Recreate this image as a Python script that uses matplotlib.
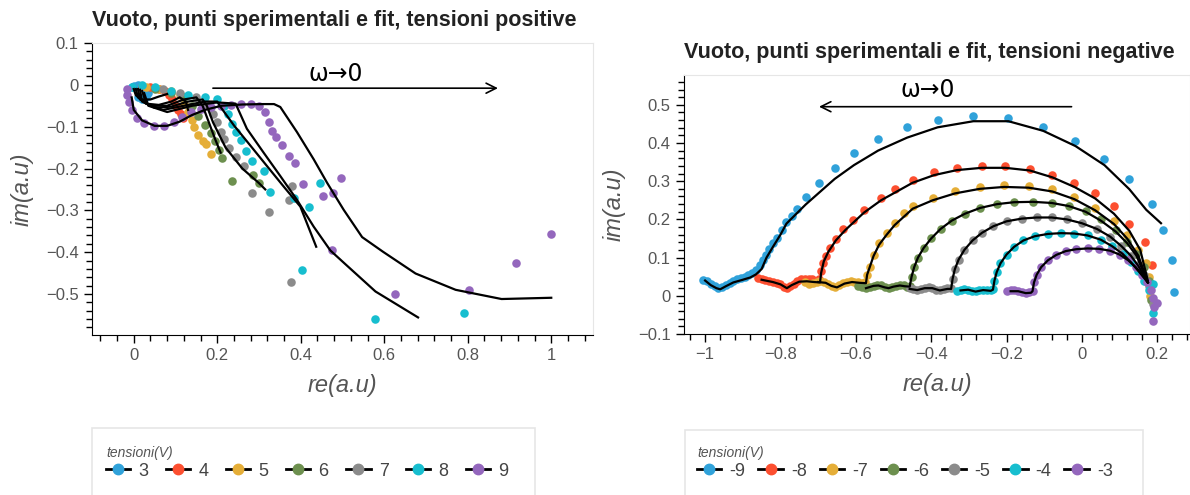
import matplotlib
matplotlib.use('Agg')
import matplotlib.pyplot as plt
from matplotlib.lines import Line2D
from matplotlib.patches import Rectangle
from matplotlib.ticker import MultipleLocator

plt.rcParams['font.family'] = ['Liberation Sans', 'DejaVu Sans']

# palette (holoviews default cycle)
colors = ['#30a2da', '#fc4f30', '#e5ae38', '#6d904f', '#8b8b8b', '#17becf', '#9467bd']

# ---------------- positive voltages (left) ----------------
pos_labels = ['3', '4', '5', '6', '7', '8', '9']

pos_x = [
    [-0.005, 0.0, 0.01, 0.02, 0.03, 0.035, 0.03, 0.02, 0.01],
    [0.02, 0.04, 0.06, 0.075, 0.085, 0.092, 0.1, 0.106, 0.112, 0.117],
    [0.03, 0.06, 0.09, 0.11, 0.12, 0.13, 0.14, 0.145, 0.155, 0.165, 0.172, 0.184],
    [0.05, 0.09, 0.12, 0.14, 0.155, 0.17, 0.185, 0.195, 0.205, 0.212, 0.236, 0.285, 0.30],
    [0.07, 0.11, 0.15, 0.175, 0.19, 0.2, 0.208, 0.216, 0.228, 0.245, 0.264, 0.283, 0.323, 0.371, 0.379, 0.377],
    [-0.005, 0.02, 0.05, 0.09, 0.13, 0.17, 0.2, 0.215, 0.225, 0.235, 0.245, 0.256, 0.268, 0.283, 0.311,
     0.327, 0.383, 0.419, 0.447, 0.403, 0.578, 0.791],
    [-0.015, -0.015, -0.012, -0.005, 0.008, 0.025, 0.048, 0.072, 0.096, 0.115, 0.136, 0.16, 0.184, 0.208,
     0.232, 0.256, 0.28, 0.3, 0.315, 0.323, 0.33, 0.341, 0.355, 0.373, 0.386, 0.405, 0.453, 0.478, 0.496,
     0.476, 0.626, 0.803, 0.915, 1.0],
]
pos_y = [
    [-0.005, -0.002, 0.0, -0.003, -0.01, -0.02, -0.03, -0.035, -0.03],
    [-0.002, -0.005, -0.01, -0.015, -0.025, -0.035, -0.05, -0.06, -0.07, -0.08],
    [-0.005, -0.01, -0.015, -0.025, -0.045, -0.065, -0.085, -0.1, -0.12, -0.135, -0.142, -0.166],
    [-0.01, -0.02, -0.03, -0.05, -0.075, -0.095, -0.115, -0.135, -0.155, -0.174, -0.23, -0.215, -0.235],
    [-0.01, -0.02, -0.03, -0.045, -0.07, -0.09, -0.113, -0.129, -0.15, -0.172, -0.194, -0.259, -0.303,
     -0.275, -0.242, -0.471],
    [-0.005, 0.0, -0.005, -0.015, -0.025, -0.03, -0.035, -0.05, -0.07, -0.093, -0.113, -0.133, -0.158,
     -0.182, -0.206, -0.255, -0.271, -0.291, -0.234, -0.443, -0.56, -0.546],
    [-0.01, -0.025, -0.04, -0.06, -0.08, -0.092, -0.098, -0.098, -0.09, -0.078, -0.066, -0.058, -0.053,
     -0.05, -0.048, -0.047, -0.047, -0.05, -0.065, -0.09, -0.11, -0.125, -0.145, -0.17, -0.188, -0.238,
     -0.265, -0.259, -0.222, -0.395, -0.50, -0.49, -0.427, -0.356],
]

pos_fit_x = [
    [0.0, 0.005, 0.02, 0.04, 0.06, 0.08],
    [0.005, 0.01, 0.03, 0.06, 0.09, 0.11, 0.125, 0.13],
    [0.01, 0.015, 0.04, 0.08, 0.12, 0.15, 0.165, 0.18, 0.195, 0.208],
    [0.015, 0.02, 0.05, 0.09, 0.13, 0.165, 0.175, 0.19, 0.22, 0.26, 0.30, 0.315],
    [0.02, 0.03, 0.07, 0.12, 0.17, 0.2, 0.208, 0.24, 0.28, 0.319, 0.359, 0.399, 0.437],
    [0.025, 0.035, 0.08, 0.14, 0.2, 0.244, 0.271, 0.311, 0.351, 0.391, 0.431, 0.471, 0.505, 0.579, 0.681],
    [-0.005, 0.0, 0.02, 0.05, 0.08, 0.11, 0.14, 0.17, 0.21, 0.26, 0.31, 0.336, 0.351, 0.391, 0.431,
     0.463, 0.503, 0.547, 0.597, 0.675, 0.771, 0.881, 1.0],
]
pos_fit_y = [
    [-0.01, -0.025, -0.035, -0.035, -0.028, -0.022],
    [-0.01, -0.03, -0.045, -0.048, -0.04, -0.03, -0.04, -0.06],
    [-0.01, -0.035, -0.05, -0.05, -0.035, -0.03, -0.05, -0.09, -0.13, -0.162],
    [-0.012, -0.04, -0.055, -0.052, -0.04, -0.035, -0.05, -0.09, -0.15, -0.2, -0.235, -0.25],
    [-0.015, -0.045, -0.06, -0.05, -0.04, -0.04, -0.053, -0.097, -0.146, -0.194, -0.243, -0.291, -0.387],
    [-0.02, -0.05, -0.065, -0.05, -0.042, -0.045, -0.105, -0.162, -0.218, -0.275, -0.339, -0.396, -0.427,
     -0.494, -0.556],
    [-0.03, -0.06, -0.085, -0.098, -0.098, -0.088, -0.072, -0.06, -0.05, -0.047, -0.046, -0.046, -0.053,
     -0.113, -0.178, -0.234, -0.299, -0.364, -0.399, -0.451, -0.49, -0.512, -0.509],
]

# ---------------- negative voltages (right) ----------------
neg_labels = ['-9', '-8', '-7', '-6', '-5', '-4', '-3']

neg_x = [
    [-1.005, -0.995, -0.985, -0.975, -0.965, -0.955, -0.945, -0.935, -0.925, -0.915, -0.905, -0.895, -0.885,
     -0.875, -0.865, -0.855, -0.847, -0.839, -0.83, -0.82, -0.81, -0.797, -0.784, -0.77, -0.756, -0.733,
     -0.698, -0.656, -0.605, -0.541, -0.464, -0.383, -0.288, -0.195, -0.103, -0.017, 0.06, 0.126, 0.186,
     0.215, 0.24, 0.245],
    [-0.859, -0.85, -0.84, -0.83, -0.82, -0.81, -0.8, -0.79, -0.782, -0.774, -0.765, -0.755, -0.745, -0.735,
     -0.725, -0.715, -0.705, -0.697, -0.692, -0.686, -0.678, -0.668, -0.653, -0.633, -0.608, -0.578, -0.533,
     -0.497, -0.449, -0.392, -0.332, -0.266, -0.203, -0.138, -0.078, -0.02, 0.035, 0.085, 0.126, 0.168,
     0.185],
    [-0.734, -0.724, -0.714, -0.704, -0.694, -0.684, -0.674, -0.664, -0.654, -0.644, -0.634, -0.624, -0.614,
     -0.604, -0.594, -0.584, -0.575, -0.57, -0.563, -0.553, -0.538, -0.518, -0.497, -0.472, -0.449, -0.396,
     -0.337, -0.271, -0.206, -0.141, -0.078, -0.02, 0.035, 0.085, 0.12, 0.15, 0.17, 0.178, 0.18],
    [-0.593, -0.583, -0.573, -0.563, -0.553, -0.543, -0.533, -0.523, -0.513, -0.503, -0.493, -0.483, -0.473,
     -0.463, -0.457, -0.452, -0.445, -0.435, -0.42, -0.4, -0.375, -0.345, -0.31, -0.27, -0.225, -0.18, -0.13,
     -0.08, -0.035, 0.01, 0.05, 0.09, 0.12, 0.145, 0.165, 0.178, 0.183],
    [-0.457, -0.447, -0.437, -0.427, -0.417, -0.407, -0.397, -0.387, -0.377, -0.367, -0.357, -0.347, -0.343,
     -0.337, -0.327, -0.312, -0.29, -0.265, -0.235, -0.2, -0.16, -0.12, -0.08, -0.04, 0.0, 0.04, 0.075,
     0.105, 0.13, 0.15, 0.165, 0.178, 0.188],
    [-0.332, -0.322, -0.312, -0.302, -0.292, -0.282, -0.272, -0.262, -0.252, -0.242, -0.236, -0.232, -0.226,
     -0.216, -0.2, -0.18, -0.155, -0.125, -0.09, -0.055, -0.02, 0.015, 0.05, 0.08, 0.108, 0.13, 0.15, 0.165,
     0.178, 0.19, 0.19],
    [-0.199, -0.189, -0.179, -0.169, -0.159, -0.149, -0.139, -0.131, -0.127, -0.12, -0.108, -0.09, -0.068,
     -0.043, -0.015, 0.015, 0.045, 0.075, 0.1, 0.123, 0.143, 0.16, 0.172, 0.183, 0.19, 0.192, 0.2, 0.19],
]
neg_y = [
    [0.042, 0.038, 0.032, 0.025, 0.02, 0.022, 0.028, 0.034, 0.04, 0.043, 0.046, 0.05, 0.054, 0.06, 0.068,
     0.08, 0.095, 0.108, 0.122, 0.137, 0.152, 0.172, 0.192, 0.21, 0.228, 0.259, 0.295, 0.335, 0.374, 0.41,
     0.441, 0.459, 0.471, 0.465, 0.443, 0.405, 0.358, 0.305, 0.241, 0.172, 0.095, 0.01],
    [0.047, 0.045, 0.042, 0.04, 0.037, 0.034, 0.03, 0.024, 0.021, 0.026, 0.032, 0.038, 0.043, 0.045, 0.045,
     0.044, 0.04, 0.045, 0.065, 0.085, 0.105, 0.126, 0.149, 0.176, 0.198, 0.225, 0.257, 0.279, 0.302, 0.323,
     0.335, 0.34, 0.34, 0.333, 0.315, 0.295, 0.27, 0.234, 0.189, 0.14, 0.08],
    [0.035, 0.032, 0.034, 0.037, 0.038, 0.036, 0.03, 0.025, 0.022, 0.027, 0.033, 0.036, 0.038, 0.037, 0.035,
     0.033, 0.035, 0.055, 0.075, 0.106, 0.137, 0.164, 0.19, 0.217, 0.234, 0.257, 0.275, 0.286, 0.29, 0.288,
     0.279, 0.259, 0.23, 0.195, 0.16, 0.12, 0.085, 0.05, 0.0],
    [0.025, 0.022, 0.02, 0.022, 0.026, 0.028, 0.027, 0.023, 0.02, 0.022, 0.026, 0.028, 0.027, 0.024, 0.025,
     0.05, 0.075, 0.1, 0.125, 0.15, 0.175, 0.197, 0.215, 0.23, 0.24, 0.245, 0.246, 0.243, 0.235, 0.222, 0.2,
     0.172, 0.142, 0.11, 0.075, 0.04, -0.012],
    [0.02, 0.017, 0.016, 0.018, 0.021, 0.022, 0.02, 0.016, 0.015, 0.017, 0.02, 0.02, 0.045, 0.07, 0.095,
     0.12, 0.145, 0.165, 0.182, 0.195, 0.202, 0.205, 0.205, 0.2, 0.19, 0.175, 0.155, 0.13, 0.105, 0.08,
     0.055, 0.025, -0.022],
    [0.013, 0.016, 0.018, 0.016, 0.013, 0.012, 0.014, 0.016, 0.015, 0.014, 0.018, 0.04, 0.062, 0.085, 0.108,
     0.128, 0.145, 0.156, 0.162, 0.164, 0.163, 0.158, 0.147, 0.13, 0.11, 0.088, 0.065, 0.04, 0.015, 0.03,
     -0.045],
    [0.012, 0.014, 0.015, 0.012, 0.009, 0.008, 0.009, 0.012, 0.035, 0.055, 0.075, 0.093, 0.107, 0.117, 0.122,
     0.124, 0.123, 0.118, 0.108, 0.093, 0.075, 0.055, 0.035, 0.015, -0.005, -0.03, -0.02, -0.065],
]

neg_fit_x = [
    [-1.0, -0.985, -0.97, -0.96, -0.945, -0.925, -0.9, -0.88, -0.865, -0.85, -0.837, -0.82, -0.8, -0.784,
     -0.733, -0.656, -0.605, -0.541, -0.464, -0.383, -0.288, -0.195, -0.103, -0.017, 0.06, 0.126, 0.171, 0.21],
    [-0.85, -0.82, -0.8, -0.783, -0.77, -0.75, -0.73, -0.71, -0.695, -0.692, -0.685, -0.673, -0.653, -0.628,
     -0.578, -0.533, -0.449, -0.392, -0.332, -0.266, -0.203, -0.138, -0.078, -0.02, 0.035, 0.085, 0.126,
     0.155, 0.175],
    [-0.70, -0.68, -0.665, -0.65, -0.63, -0.61, -0.59, -0.573, -0.57, -0.563, -0.553, -0.538, -0.518, -0.497,
     -0.449, -0.396, -0.337, -0.271, -0.206, -0.141, -0.078, -0.02, 0.035, 0.085, 0.12, 0.15, 0.175],
    [-0.573, -0.553, -0.54, -0.523, -0.513, -0.5, -0.483, -0.47, -0.457, -0.452, -0.445, -0.435, -0.42, -0.4,
     -0.375, -0.345, -0.31, -0.27, -0.225, -0.18, -0.13, -0.08, -0.035, 0.01, 0.05, 0.09, 0.12, 0.145, 0.175],
    [-0.457, -0.437, -0.417, -0.397, -0.377, -0.357, -0.347, -0.343, -0.337, -0.327, -0.312, -0.29, -0.265,
     -0.235, -0.2, -0.16, -0.12, -0.08, -0.04, 0.0, 0.04, 0.075, 0.105, 0.13, 0.15, 0.175],
    [-0.322, -0.302, -0.282, -0.262, -0.242, -0.236, -0.232, -0.226, -0.216, -0.2, -0.18, -0.155, -0.125,
     -0.09, -0.055, -0.02, 0.015, 0.05, 0.08, 0.108, 0.13, 0.15, 0.175],
    [-0.189, -0.169, -0.149, -0.135, -0.131, -0.127, -0.12, -0.108, -0.09, -0.068, -0.043, -0.015, 0.015,
     0.045, 0.075, 0.1, 0.123, 0.143, 0.16, 0.175],
]
neg_fit_y = [
    [0.04, 0.028, 0.02, 0.017, 0.025, 0.035, 0.042, 0.048, 0.056, 0.07, 0.1, 0.128, 0.16, 0.189, 0.239,
     0.306, 0.342, 0.38, 0.414, 0.441, 0.457, 0.457, 0.432, 0.392, 0.342, 0.279, 0.225, 0.19],
    [0.042, 0.036, 0.03, 0.02, 0.028, 0.037, 0.038, 0.036, 0.035, 0.06, 0.09, 0.115, 0.145, 0.172, 0.218,
     0.25, 0.296, 0.316, 0.329, 0.335, 0.335, 0.328, 0.31, 0.285, 0.255, 0.215, 0.17, 0.12, 0.04],
    [0.036, 0.034, 0.026, 0.022, 0.032, 0.036, 0.034, 0.033, 0.055, 0.075, 0.104, 0.134, 0.16, 0.185, 0.228,
     0.25, 0.268, 0.28, 0.285, 0.283, 0.273, 0.253, 0.224, 0.188, 0.15, 0.105, 0.035],
    [0.02, 0.026, 0.027, 0.022, 0.02, 0.024, 0.027, 0.025, 0.024, 0.05, 0.075, 0.1, 0.125, 0.15, 0.175, 0.197,
     0.215, 0.23, 0.24, 0.245, 0.246, 0.243, 0.235, 0.22, 0.197, 0.168, 0.138, 0.105, 0.035],
    [0.018, 0.015, 0.02, 0.02, 0.014, 0.018, 0.018, 0.045, 0.07, 0.095, 0.12, 0.145, 0.165, 0.182, 0.195,
     0.202, 0.205, 0.205, 0.2, 0.19, 0.175, 0.155, 0.13, 0.105, 0.078, 0.035],
    [0.014, 0.016, 0.011, 0.015, 0.013, 0.016, 0.04, 0.062, 0.085, 0.108, 0.128, 0.145, 0.156, 0.162, 0.164,
     0.163, 0.158, 0.147, 0.13, 0.11, 0.088, 0.065, 0.035],
    [0.012, 0.012, 0.007, 0.008, 0.012, 0.035, 0.055, 0.075, 0.093, 0.107, 0.117, 0.122, 0.124, 0.123, 0.118,
     0.108, 0.093, 0.075, 0.055, 0.035],
]


def fmt(v, pos):
    return f'{round(v, 2) + 0.0:g}'.replace('-', '\u2212')


def style_axis(ax, xlim, ylim, xmajor, ymajor):
    ax.set_xlim(*xlim)
    ax.set_ylim(*ylim)
    ax.xaxis.set_major_locator(MultipleLocator(xmajor))
    ax.xaxis.set_minor_locator(MultipleLocator(xmajor / 5))
    ax.yaxis.set_major_locator(MultipleLocator(ymajor))
    ax.yaxis.set_minor_locator(MultipleLocator(ymajor / 5))
    ax.xaxis.set_major_formatter(plt.FuncFormatter(fmt))
    ax.yaxis.set_major_formatter(plt.FuncFormatter(fmt))
    ax.tick_params(which='major', direction='out', length=6, width=1, color='black',
                   labelsize=12, labelcolor='#555555')
    ax.tick_params(which='minor', direction='out', length=4, width=1, color='black')
    for s in ['top', 'right']:
        ax.spines[s].set_color('#e6e6e6')
    for s in ['left', 'bottom']:
        ax.spines[s].set_color('black')
    ax.set_xlabel('re(a.u)', fontsize=17, style='italic', color='#555555', labelpad=8)
    ax.set_ylabel('im(a.u)', fontsize=17, style='italic', color='#555555', labelpad=9)


def add_legend(fig, labels, x0, y0, colspace, box):
    handles = [Line2D([0], [0], color='black', lw=2, marker='o', markersize=7.5,
                      markerfacecolor=c, markeredgecolor=c) for c in colors]
    leg = fig.legend(handles, labels, ncol=7, loc='upper left', bbox_to_anchor=(x0, y0),
                     frameon=False, title='tensioni(V)', alignment='left', borderpad=0,
                     labelspacing=0.15, handlelength=1.35, handletextpad=0.45,
                     columnspacing=colspace, fontsize=13,
                     title_fontproperties={'style': 'italic', 'size': 10})
    leg.get_title().set_color('#555555')
    for t in leg.get_texts():
        t.set_color('#444444')
    fig.patches.append(Rectangle((box[0], box[1]), box[2], box[3], transform=fig.transFigure,
                                 facecolor='none', edgecolor='#e6e6e6', lw=1.2))


fig = plt.figure(figsize=(11.9, 4.95), dpi=100)

# left panel
ax1 = fig.add_axes([92 / 1190, 1 - 335 / 495, 501 / 1190, 292 / 495])
for i in range(7):
    ax1.scatter(pos_x[i], pos_y[i], s=38, color=colors[i], zorder=2, linewidths=0)
for i in range(7):
    ax1.plot(pos_fit_x[i], pos_fit_y[i], color='black', lw=1.6, zorder=3)
style_axis(ax1, (-0.1, 1.1), (-0.598, 0.1), 0.2, 0.1)
ax1.set_title('Vuoto, punti sperimentali e fit, tensioni positive', loc='left', fontsize=15.5,
              fontweight='bold', color='#222222', pad=12)
ax1.annotate('', xy=(0.879, -0.008), xytext=(0.183, -0.008),
             arrowprops=dict(arrowstyle='->', color='black', lw=1.2, mutation_scale=18))
ax1.text(0.483, 0.027, 'ω→0', ha='center', va='center', fontsize=17, family=['DejaVu Sans'])

# right panel
ax2 = fig.add_axes([684 / 1190, 1 - 334 / 495, 506 / 1190, 259 / 495])
for i in range(7):
    ax2.scatter(neg_x[i], neg_y[i], s=38, color=colors[i], zorder=2, linewidths=0)
for i in range(7):
    ax2.plot(neg_fit_x[i], neg_fit_y[i], color='black', lw=1.6, zorder=3)
style_axis(ax2, (-1.056, 0.287), (-0.1, 0.578), 0.2, 0.1)
ax2.set_title('Vuoto, punti sperimentali e fit, tensioni negative', loc='left', fontsize=15.5,
              fontweight='bold', color='#222222', pad=12)
ax2.annotate('', xy=(-0.705, 0.495), xytext=(-0.02, 0.495),
             arrowprops=dict(arrowstyle='->', color='black', lw=1.2, mutation_scale=18))
ax2.text(-0.41, 0.54, 'ω→0', ha='center', va='center', fontsize=17, family=['DejaVu Sans'])

add_legend(fig, pos_labels, 97 / 1190, 1 - 437 / 495, 0.97,
           (92 / 1190, -0.1, 443 / 1190, 0.1 + 67 / 495))
add_legend(fig, neg_labels, 688 / 1190, 1 - 437 / 495, 0.71,
           (685 / 1190, -0.1, 458 / 1190, 0.1 + 65 / 495))

fig.savefig('out.png', dpi=100)
